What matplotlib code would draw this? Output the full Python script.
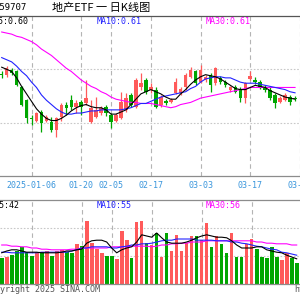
import matplotlib
matplotlib.use('Agg')
import numpy as np
import matplotlib.pyplot as plt

# 日K数据, 第一根只露出一半
opens = [0.626, 0.625, 0.629, 0.628, 0.613, 0.601, 0.584, 0.582, 0.590, 0.582,
         0.581, 0.573, 0.585, 0.597, 0.601, 0.595, 0.599, 0.598, 0.581, 0.585,
         0.589, 0.595, 0.587, 0.582, 0.584, 0.592, 0.606, 0.595, 0.613, 0.620,
         0.611, 0.611, 0.597, 0.600, 0.599, 0.608, 0.608, 0.613, 0.623, 0.628,
         0.618, 0.620, 0.625, 0.617, 0.622, 0.618, 0.611, 0.613, 0.611, 0.603,
         0.621, 0.620, 0.618, 0.613, 0.611, 0.606, 0.599, 0.601, 0.604, 0.603]
highs = [0.628, 0.633, 0.631, 0.629, 0.614, 0.602, 0.587, 0.590, 0.592, 0.587,
         0.585, 0.585, 0.598, 0.599, 0.606, 0.601, 0.601, 0.620, 0.601, 0.604,
         0.596, 0.597, 0.589, 0.589, 0.609, 0.608, 0.608, 0.622, 0.627, 0.622,
         0.617, 0.613, 0.606, 0.602, 0.603, 0.622, 0.613, 0.627, 0.632, 0.629,
         0.634, 0.625, 0.627, 0.632, 0.624, 0.620, 0.614, 0.615, 0.613, 0.618,
         0.628, 0.623, 0.620, 0.615, 0.613, 0.608, 0.605, 0.608, 0.606, 0.605]
lows = [0.622, 0.623, 0.625, 0.614, 0.596, 0.580, 0.578, 0.581, 0.571, 0.581,
        0.571, 0.567, 0.582, 0.587, 0.592, 0.589, 0.587, 0.597, 0.580, 0.584,
        0.587, 0.586, 0.575, 0.581, 0.583, 0.590, 0.595, 0.594, 0.611, 0.607,
        0.608, 0.594, 0.595, 0.597, 0.598, 0.607, 0.606, 0.611, 0.622, 0.615,
        0.617, 0.618, 0.609, 0.615, 0.616, 0.613, 0.609, 0.608, 0.599, 0.598,
        0.620, 0.616, 0.612, 0.609, 0.601, 0.594, 0.598, 0.600, 0.597, 0.600]
closes = [0.625, 0.631, 0.627, 0.615, 0.597, 0.584, 0.583, 0.589, 0.580, 0.585,
          0.573, 0.584, 0.597, 0.594, 0.595, 0.598, 0.595, 0.603, 0.594, 0.592,
          0.594, 0.589, 0.581, 0.587, 0.599, 0.603, 0.597, 0.620, 0.617, 0.609,
          0.613, 0.595, 0.604, 0.598, 0.601, 0.618, 0.612, 0.625, 0.629, 0.617,
          0.629, 0.623, 0.615, 0.631, 0.618, 0.615, 0.613, 0.609, 0.603, 0.617,
          0.624, 0.618, 0.613, 0.611, 0.603, 0.598, 0.603, 0.606, 0.599, 0.602]

ma5 = [0.632, 0.630, 0.628, 0.622, 0.614, 0.607, 0.600, 0.593, 0.588, 0.584,
       0.582, 0.582, 0.584, 0.587, 0.591, 0.594, 0.596, 0.597, 0.595, 0.594,
       0.594, 0.592, 0.588, 0.588, 0.590, 0.592, 0.597, 0.602, 0.607, 0.609,
       0.611, 0.609, 0.607, 0.604, 0.602, 0.602, 0.607, 0.611, 0.616, 0.620,
       0.623, 0.625, 0.624, 0.623, 0.621, 0.618, 0.615, 0.612, 0.611, 0.611,
       0.613, 0.615, 0.614, 0.613, 0.610, 0.608, 0.606, 0.604, 0.603, 0.602]
ma10 = [0.641, 0.639, 0.637, 0.633, 0.628, 0.624, 0.618, 0.613, 0.606, 0.601,
        0.597, 0.593, 0.590, 0.588, 0.588, 0.589, 0.589, 0.590, 0.591, 0.591,
        0.592, 0.592, 0.592, 0.592, 0.592, 0.593, 0.594, 0.596, 0.598, 0.598,
        0.600, 0.602, 0.604, 0.605, 0.606, 0.607, 0.608, 0.609, 0.612, 0.614,
        0.618, 0.621, 0.622, 0.623, 0.623, 0.622, 0.622, 0.620, 0.618, 0.617,
        0.617, 0.617, 0.616, 0.615, 0.614, 0.613, 0.612, 0.611, 0.609, 0.608]
ma30 = [0.665, 0.664, 0.663, 0.661, 0.660, 0.658, 0.656, 0.653, 0.649, 0.646,
        0.643, 0.639, 0.635, 0.631, 0.628, 0.624, 0.620, 0.617, 0.614, 0.612,
        0.609, 0.607, 0.604, 0.602, 0.601, 0.600, 0.599, 0.599, 0.598, 0.598,
        0.598, 0.597, 0.596, 0.595, 0.594, 0.595, 0.597, 0.598, 0.599, 0.601,
        0.603, 0.604, 0.605, 0.606, 0.607, 0.608, 0.609, 0.610, 0.611, 0.612,
        0.613, 0.613, 0.613, 0.613, 0.613, 0.613, 0.613, 0.613, 0.613, 0.613]

volumes = [44, 45, 48, 55, 62, 54, 47, 54, 54, 55,
           47, 55, 57, 54, 51, 67, 63, 105, 68, 59,
           51, 47, 47, 42, 88, 73, 43, 103, 105, 68,
           65, 85, 45, 85, 55, 82, 55, 68, 80, 80,
           73, 102, 62, 80, 67, 52, 85, 45, 45, 67,
           75, 58, 45, 43, 62, 45, 40, 52, 43, 35]
vol_ma5 = [52, 55, 57, 57, 55, 53, 53, 53, 52, 52,
           52, 52, 53, 55, 55, 57, 58, 68, 72, 73,
           73, 70, 60, 52, 57, 60, 62, 70, 82, 80,
           78, 85, 77, 70, 68, 68, 68, 70, 73, 77,
           80, 82, 80, 78, 78, 77, 72, 65, 60, 60,
           60, 62, 62, 57, 55, 53, 52, 48, 45, 42]
vol_ma10 = [53, 53, 52, 52, 52, 52, 52, 52, 53, 53,
            53, 53, 53, 53, 55, 57, 60, 60, 62, 62,
            62, 62, 60, 60, 62, 63, 65, 65, 67, 67,
            68, 70, 72, 73, 73, 75, 75, 75, 75, 73,
            73, 73, 73, 72, 72, 72, 70, 70, 68, 67,
            65, 63, 62, 60, 58, 57, 53, 52, 50, 48]
vol_ma30 = [65, 65, 63, 63, 62, 62, 60, 60, 58, 58,
            57, 57, 57, 57, 58, 58, 60, 60, 60, 60,
            60, 60, 62, 62, 62, 62, 63, 63, 63, 63,
            62, 63, 65, 65, 67, 67, 68, 68, 70, 70,
            70, 72, 72, 72, 72, 72, 72, 72, 72, 72,
            72, 70, 70, 68, 68, 67, 67, 67, 65, 65]

date_idx = [6, 16, 22, 30, 40, 50, 60]
date_labels = ['2025-01-06', '01-20', '02-05', '02-17', '03-03', '03-17', '03-31']
price_grid = [0.58, 0.63]
vol_grid = [46.7, 93.3]

UP = '#ff5a5a'
DOWN = '#00a600'
MONO = 'DejaVu Sans Mono'

x = np.arange(len(closes))
o = np.array(opens)
c = np.array(closes)
up = c >= o
colors = [UP if u else DOWN for u in up]

fig = plt.figure(figsize=(3, 3), dpi=100)
ax = fig.add_axes([0, 1 - 176 / 300, 1, 160 / 300])
axv = fig.add_axes([0, 1 - 284 / 300, 1, 84 / 300])

for a in (ax, axv):
    a.set_xlim(-0.34, 59.66)
    for s in a.spines.values():
        s.set_visible(False)
    a.spines['top'].set_visible(True)
    a.spines['bottom'].set_visible(True)
    a.spines['top'].set_color('#8c8c8c')
    a.spines['bottom'].set_color('#8c8c8c')
    a.spines['top'].set_linewidth(0.9)
    a.spines['bottom'].set_linewidth(0.9)
    a.set_yticks([])
    for d in date_idx:
        a.axvline(d, color='#b4b4b4', lw=0.8, ls=(0, (4, 3)), zorder=0)

ax.spines['top'].set_color('#555555')

# 价格面板
ax.set_ylim(0.53, 0.68)
for g in price_grid:
    ax.axhline(g, color='#c8c8c8', lw=0.8, ls=(0, (1.5, 1.5)), zorder=0)
ax.vlines(x, lows, highs, colors=colors, lw=0.9, zorder=2)
body = np.maximum(np.abs(c - o), 0.0008)
ax.bar(x, body, bottom=np.minimum(o, c), width=0.72, color=colors, zorder=3)
ax.plot(x, ma30, color='#ff00ff', lw=0.8, zorder=4)
ax.plot(x, ma10, color='#2222ff', lw=0.8, zorder=4)
ax.plot(x, ma5, color='black', lw=0.8, zorder=4)

ax.set_xticks(date_idx)
ax.set_xticklabels(date_labels, fontsize=6, family=MONO, color='#3a96dc')
ax.tick_params(axis='x', length=0, pad=3.5)
for lab in ax.get_xticklabels():
    lab.set_clip_on(False)

# 成交量面板
axv.set_ylim(0, 140)
for g in vol_grid:
    axv.axhline(g, color='#c8c8c8', lw=0.8, ls=(0, (1.5, 1.5)), zorder=0)
axv.bar(x, volumes, width=0.72, color=colors, zorder=2)
axv.plot(x, vol_ma30, color='#ff00ff', lw=0.8, zorder=4)
axv.plot(x, vol_ma10, color='#2222ff', lw=0.8, zorder=4)
axv.plot(x, vol_ma5, color='black', lw=0.8, zorder=4)
axv.set_xticks([])

# 文字
def ptxt(px, py, s, **kw):
    fig.text(px / 300, 1 - py / 300, s, va='center', **kw)

ptxt(-5, 8, '159707', fontsize=6.5, family=MONO, color='black')
ptxt(52, 8, '地产ETF 一 日K线图', fontsize=8,
     family=['Noto Sans CJK SC', 'DejaVu Sans'], color='black')
ptxt(29, 22, 'MA5:%.2f' % ma5[-1], fontsize=6, family=MONO, color='black', ha='right')
ptxt(97, 22, 'MA10:%.2f' % ma10[-1], fontsize=6, family=MONO, color='#2222ff')
ptxt(206, 22, 'MA30:%.2f' % ma30[-1], fontsize=6, family=MONO, color='#ff00ff')
ptxt(20, 205, 'MA5:42', fontsize=6, family=MONO, color='black', ha='right')
ptxt(97, 205, 'MA10:55', fontsize=6, family=MONO, color='#2222ff')
ptxt(206, 205, 'MA30:56', fontsize=6, family=MONO, color='#ff00ff')
ptxt(-15, 290, 'Copyright 2025 SINA.COM', fontsize=6, family=MONO, color='#555555')
ptxt(294, 290, 'http://finance.sina.com.cn', fontsize=6, family=MONO, color='#555555')

fig.savefig('out.png', dpi=100)
